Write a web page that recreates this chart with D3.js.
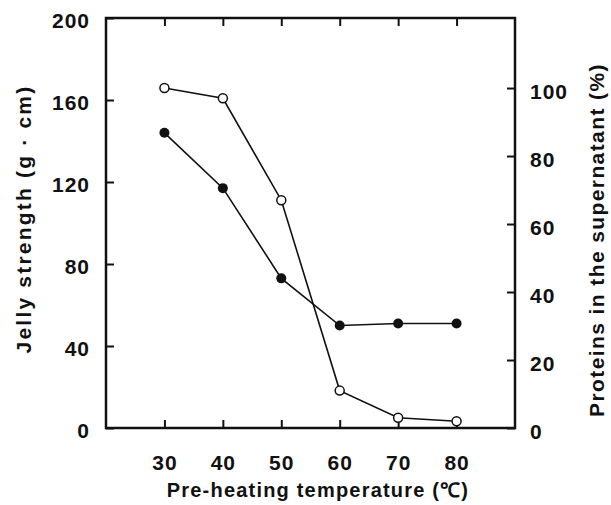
<!DOCTYPE html>
<html lang="en">
<head>
<meta charset="UTF-8">
<title>Jelly strength vs pre-heating temperature</title>
<script src="https://cdn.jsdelivr.net/npm/d3@7"></script>
<style>
  body { margin: 0; background: #fff; }
  text { font-family: "Liberation Sans", Arial, sans-serif; font-weight: bold; fill: #111; }
</style>
</head>
<body>
<svg id="chart" width="611" height="505"></svg>
<script>
// data
var temps = [30, 40, 50, 60, 70, 80];
var jellyStrength = [144, 117, 73, 50, 51, 51];     // filled circles, left axis (g·cm)
var supernatantProtein = [100, 97, 67, 11, 3, 2];  // open circles, right axis (%)
var leftTicks = [0, 40, 80, 120, 160, 200];
var rightTicks = [0, 20, 40, 60, 80, 100];

var svg = d3.select("#chart");
var m = {left: 106, right: 515, top: 18, bottom: 428};

var x = d3.scaleLinear().domain([20, 90]).range([m.left, m.right]);
var yL = d3.scaleLinear().domain([0, 200]).range([m.bottom, m.top]);
var yR = d3.scaleLinear().domain([0, 120.6]).range([m.bottom, m.top]);

// frame
svg.append("rect")
    .attr("x", m.left).attr("y", m.top)
    .attr("width", m.right - m.left).attr("height", m.bottom - m.top)
    .attr("fill", "none").attr("stroke", "#111").attr("stroke-width", 2.5);

function styleAxis(g) {
  g.select(".domain").remove();
  g.selectAll(".tick line").attr("stroke", "#111").attr("stroke-width", 2);
  g.selectAll(".tick text").attr("fill", "#111")
      .style("font-size", "21px").style("letter-spacing", "1px");
}

svg.append("g")
    .attr("transform", "translate(" + m.left + ",0)")
    .call(d3.axisLeft(yL).tickValues(leftTicks).tickSize(-8).tickPadding(16))
    .call(styleAxis)
    .selectAll(".tick text").attr("dy", "0.45em");

svg.append("g")
    .attr("transform", "translate(" + m.right + ",0)")
    .call(d3.axisRight(yR).tickValues(rightTicks).tickSize(-8).tickPadding(15))
    .call(styleAxis)
    .selectAll(".tick text").attr("dy", "0.5em");

svg.append("g")
    .attr("transform", "translate(0," + m.bottom + ")")
    .call(d3.axisBottom(x).tickValues(temps).tickSize(-8).tickPadding(27))
    .call(styleAxis);

svg.append("g")
    .attr("transform", "translate(0," + m.top + ")")
    .call(d3.axisTop(x).tickValues(temps).tickSize(-8).tickFormat(""))
    .call(styleAxis);

// axis titles
svg.append("text")
    .attr("transform", "translate(31,219) rotate(-90)")
    .attr("text-anchor", "middle")
    .style("font-size", "21px").style("letter-spacing", "2.2px")
    .text("Jelly strength (g · cm)");

svg.append("text")
    .attr("transform", "translate(604,240) rotate(-90)")
    .attr("text-anchor", "middle")
    .style("font-size", "21px").style("letter-spacing", "1.4px")
    .text("Proteins in the supernatant (%)");

svg.append("text")
    .attr("x", 318).attr("y", 497)
    .attr("text-anchor", "middle")
    .style("font-size", "20px").style("letter-spacing", "1.2px")
    .text("Pre-heating temperature (℃)");

// series
var lineL = d3.line().x(function(d, i) { return x(temps[i]); }).y(function(d) { return yL(d); });
var lineR = d3.line().x(function(d, i) { return x(temps[i]); }).y(function(d) { return yR(d); });

svg.append("path").datum(jellyStrength)
    .attr("d", lineL).attr("fill", "none").attr("stroke", "#111").attr("stroke-width", 1.6);
svg.append("path").datum(supernatantProtein)
    .attr("d", lineR).attr("fill", "none").attr("stroke", "#111").attr("stroke-width", 1.6);

svg.append("g").selectAll("circle")
    .data(jellyStrength)
    .enter().append("circle")
    .attr("cx", function(d, i) { return x(temps[i]); })
    .attr("cy", function(d) { return yL(d); })
    .attr("r", 5)
    .attr("fill", "#111");

svg.append("g").selectAll("circle")
    .data(supernatantProtein)
    .enter().append("circle")
    .attr("cx", function(d, i) { return x(temps[i]); })
    .attr("cy", function(d) { return yR(d); })
    .attr("r", 4.5)
    .attr("fill", "#fff").attr("stroke", "#111").attr("stroke-width", 1.5);
</script>
</body>
</html>
